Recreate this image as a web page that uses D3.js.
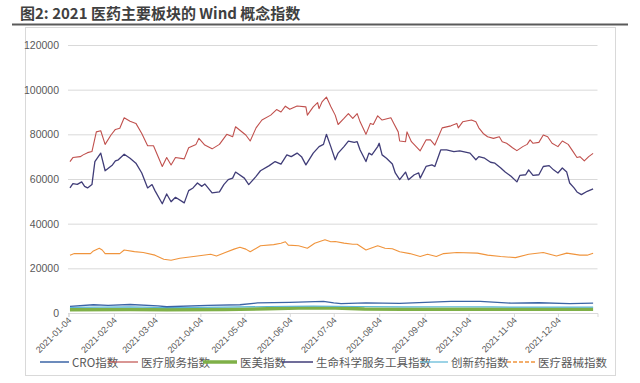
<!DOCTYPE html>
<html><head><meta charset="utf-8">
<script src="https://cdn.jsdelivr.net/npm/d3@7/dist/d3.min.js"></script>
<style>
html,body{margin:0;padding:0;background:#fff;}
svg{display:block;}
</style></head>
<body>
<svg id="chart" width="640" height="383"></svg>
<script>
// ---------------- DATA ----------------
const tickLabels = ["2021-01-04","2021-02-04","2021-03-04","2021-04-04","2021-05-04","2021-06-04","2021-07-04","2021-08-04","2021-09-04","2021-10-04","2021-11-04","2021-12-04"];
const yTicks = [0,20000,40000,60000,80000,100000,120000];

const medServDates = ["01-05","01-07","01-12","01-14","01-17","01-20","01-23","01-26","01-29","02-02","02-05","02-08","02-11","02-15","02-19","02-23","02-27","03-03","03-09","03-12","03-15","03-18","03-24","03-27","04-01","04-03","04-07","04-12","04-17","04-22","04-26","04-28","05-05","05-08","05-12","05-16","05-22","05-26","05-29","06-01","06-04","06-09","06-15","06-16","06-20","06-23","06-24","06-26","06-29","07-02","07-05","07-07","07-11","07-14","07-17","07-20","07-22","07-26","07-29","07-31","08-03","08-06","08-12","08-14","08-17","08-18","08-22","08-23","08-26","09-01","09-05","09-08","09-11","09-16","09-22","09-26","09-27","09-30","10-06","10-09","10-11","10-14","10-17","10-21","10-25","10-27","10-30","11-03","11-06","11-10","11-13","11-15","11-17","11-21","11-24","11-27","11-30","12-04","12-07","12-11","12-14","12-17","12-19","12-22","12-25","12-28"];
const medServValues = [67800,69600,70000,70800,71800,72300,81100,81600,75500,79700,82200,82700,87400,85900,84900,80400,74900,74900,65600,69600,66300,69600,69000,74000,75500,78200,75200,73500,75500,80000,78900,83400,79700,77000,82900,86400,88600,91100,90000,92600,91200,92700,92300,88600,92300,94200,91500,94500,96700,92500,88600,84400,87100,89300,87100,89300,85600,80000,84900,84400,88300,86400,87400,84900,81100,77000,76700,81100,76700,72600,77500,77500,75200,82900,83800,84900,82900,85600,86400,85600,82900,80400,78900,78200,78900,76700,76000,74000,72700,74500,75500,77500,76000,76400,79700,78900,76000,74500,77000,75500,72600,69600,70000,68100,70000,71500];

const lifeSciDates = ["01-05","01-07","01-10","01-13","01-15","01-17","01-20","01-22","01-26","01-29","02-03","02-05","02-07","02-11","02-15","02-19","02-23","02-27","03-02","03-04","03-09","03-12","03-15","03-18","03-24","03-27","03-30","04-02","04-05","04-07","04-12","04-17","04-20","04-23","04-26","04-28","05-04","05-07","05-12","05-15","05-21","05-25","05-29","06-02","06-05","06-09","06-12","06-15","06-20","06-24","06-27","06-29","07-02","07-05","07-07","07-11","07-14","07-18","07-20","07-22","07-26","07-28","07-30","08-03","08-04","08-06","08-09","08-13","08-15","08-18","08-22","08-24","08-28","08-31","09-01","09-05","09-09","09-11","09-15","09-19","09-24","09-28","10-05","10-09","10-11","10-15","10-19","10-22","10-26","10-29","11-02","11-06","11-08","11-12","11-14","11-17","11-21","11-24","11-28","12-01","12-04","12-07","12-10","12-12","12-15","12-17","12-20","12-24","12-28"];
const lifeSciValues = [56000,57900,57600,58700,56700,56000,57500,67800,71600,63700,66300,68100,68600,71100,69300,67100,62700,56000,57500,54800,48900,53300,49800,51800,49300,54800,56000,58200,56700,57800,53800,54200,57500,59700,60400,63100,60400,57500,61200,63700,66000,67800,66700,70800,70000,71600,70000,66300,71600,74500,75500,80000,74500,68600,71600,74500,77000,76400,76700,73000,67800,71600,70800,74500,76000,70800,69300,66700,62700,59700,63100,59700,61900,62700,60400,65600,66300,65600,73000,73000,72300,72600,71600,68600,70000,69300,67500,67100,64900,63100,61200,58700,61600,61900,64100,61600,61900,65600,66000,64100,62700,64900,63100,58200,56000,54200,53000,54500,55600];

const devDates = ["01-05","01-08","01-19","01-21","01-25","01-27","01-29","02-08","02-11","02-18","02-24","03-04","03-10","03-15","03-21","04-02","04-11","04-15","04-21","04-27","05-01","05-05","05-08","05-15","05-24","05-29","06-01","06-03","06-10","06-16","06-21","06-28","07-02","07-05","07-11","07-17","07-20","07-26","08-03","08-08","08-13","08-18","08-25","09-01","09-06","09-12","09-17","09-26","10-10","10-17","10-26","11-05","11-14","11-24","12-03","12-10","12-19","12-24","12-28"];
const devValues = [25900,26600,26600,27800,29000,28200,26600,26600,28200,27500,27100,25900,24100,23600,24500,25500,26300,25500,27100,28600,29400,28600,27400,30100,30600,31200,31900,30400,30100,29000,31200,32800,31900,32000,31300,30800,30800,28200,30100,29000,28800,27400,26600,25300,26300,25300,26600,27100,26800,25900,25300,24800,26300,27100,25500,26800,25900,25900,26800];

const croDates = ["01-05","01-21","01-31","02-15","03-06","03-12","04-09","05-01","05-13","06-04","06-27","07-04","07-09","07-26","08-18","09-22","10-12","11-02","11-21","12-12","12-28"];
const croValues = [3000,3700,3400,3800,3200,2800,3400,3700,4500,4800,5200,4500,4200,4500,4300,5200,5200,4400,4600,4200,4400];

const innovDates = ["01-05","02-15","03-12","04-20","05-20","06-20","07-20","08-20","09-22","10-20","11-20","12-28"];
const innovValues = [2500,2700,2400,2600,2900,3100,2900,2700,2800,2700,2600,2600];

const beautyDates = ["01-05","02-15","03-12","04-20","05-20","06-10","07-05","07-25","08-20","09-22","10-20","11-20","12-28"];
const beautyValues = [1500,1600,1400,1600,1900,2200,2200,1800,1700,1700,1700,1700,1700];

const seriesNames = ["CRO指数","医疗服务指数","医美指数","生命科学服务工具指数","创新药指数","医疗器械指数"];
const seriesColors = ["#3b64a6","#c0504d","#7fb048","#403d78","#5bb6d6","#f0943c"];

// ---------------- CHART ----------------
const svg = d3.select("#chart");
const parse = d3.timeParse("%Y-%m-%d");
const toDate = s => parse("2021-" + s);

const x = d3.scaleTime().domain([parse("2021-01-04"), parse("2021-12-31")]).range([68.5, 597.5]);
const y = d3.scaleLinear().domain([0, 120000]).range([313, 45]);

// title
svg.append("text").attr("x", 20).attr("y", 19)
  .attr("font-family", "'Noto Sans CJK SC','Noto Sans',sans-serif")
  .attr("font-size", 15).attr("font-weight", "bold").attr("fill", "#404040")
  .text("图2: 2021 医药主要板块的 Wind 概念指数");
svg.append("line").attr("x1", 12).attr("x2", 628).attr("y1", 24.5).attr("y2", 24.5)
  .attr("stroke", "#5a5a5a").attr("stroke-width", 2);

// chart frame
svg.append("rect").attr("x", 25.5).attr("y", 27.5).attr("width", 590).attr("height", 348)
  .attr("fill", "none").attr("stroke", "#d9d9d9").attr("stroke-width", 1);

// y grid + labels
const yAxis = d3.axisLeft(y).tickValues(yTicks).tickSize(-(597.5 - 68)).tickPadding(9).tickFormat(d3.format("d"));
const gy = svg.append("g").attr("transform", "translate(68,0)").call(yAxis);
gy.select(".domain").remove();
gy.selectAll(".tick line").attr("stroke", "#d9d9d9");
gy.selectAll(".tick text").attr("fill", "#595959").attr("font-size", 10.5)
  .attr("font-family", "'Liberation Sans','DejaVu Sans',sans-serif");

// x axis
const xAxis = d3.axisBottom(x).tickValues(tickLabels.map(parse)).tickSize(4).tickFormat(d3.timeFormat("%Y-%m-%d"));
const gx = svg.append("g").attr("transform", "translate(0,313)").call(xAxis);
gx.select(".domain").attr("stroke", "#d9d9d9");
gx.selectAll(".tick line").attr("stroke", "#d9d9d9");
gx.selectAll(".tick text").attr("fill", "#595959").attr("font-size", 9)
  .attr("font-family", "'Liberation Sans','DejaVu Sans',sans-serif")
  .attr("text-anchor", "end").attr("dy", null).attr("y", 0)
  .attr("transform", "translate(3,8) rotate(-45)");

// lines
const line = d3.line().x(d => x(d[0])).y(d => y(d[1]));
function drawSeries(dates, values, color, width) {
  const pts = dates.map((d, i) => [toDate(d), values[i]]);
  svg.append("path").datum(pts).attr("d", line).attr("fill", "none")
    .attr("stroke", color).attr("stroke-width", width).attr("stroke-linejoin", "round");
}
drawSeries(beautyDates, beautyValues, seriesColors[2], 3.5);
drawSeries(innovDates, innovValues, seriesColors[4], 1.2);
drawSeries(croDates, croValues, seriesColors[0], 1.3);
drawSeries(devDates, devValues, seriesColors[5], 1.1);
drawSeries(lifeSciDates, lifeSciValues, seriesColors[3], 1.3);
drawSeries(medServDates, medServValues, seriesColors[1], 1.1);

// legend
const legendItems = [
  {i:0, x1:40, x2:69, w:1.5, dash:null},
  {i:1, x1:108, x2:138, w:1.2, dash:null},
  {i:2, x1:203, x2:237, w:3.5, dash:null},
  {i:3, x1:282, x2:313, w:1.5, dash:null},
  {i:4, x1:420, x2:448, w:1.2, dash:null},
  {i:5, x1:507, x2:535, w:1.5, dash:"4,2"}
];
const ly = 362;
legendItems.forEach(it => {
  svg.append("line").attr("x1", it.x1).attr("x2", it.x2).attr("y1", ly).attr("y2", ly)
    .attr("stroke", seriesColors[it.i]).attr("stroke-width", it.w)
    .attr("stroke-dasharray", it.dash);
  svg.append("text").attr("x", it.x2 + 3).attr("y", ly + 4.5)
    .attr("font-family", "'Noto Sans CJK SC','Noto Sans',sans-serif")
    .attr("font-size", 11.5).attr("fill", "#595959")
    .text(seriesNames[it.i]);
});
</script>
</body></html>
